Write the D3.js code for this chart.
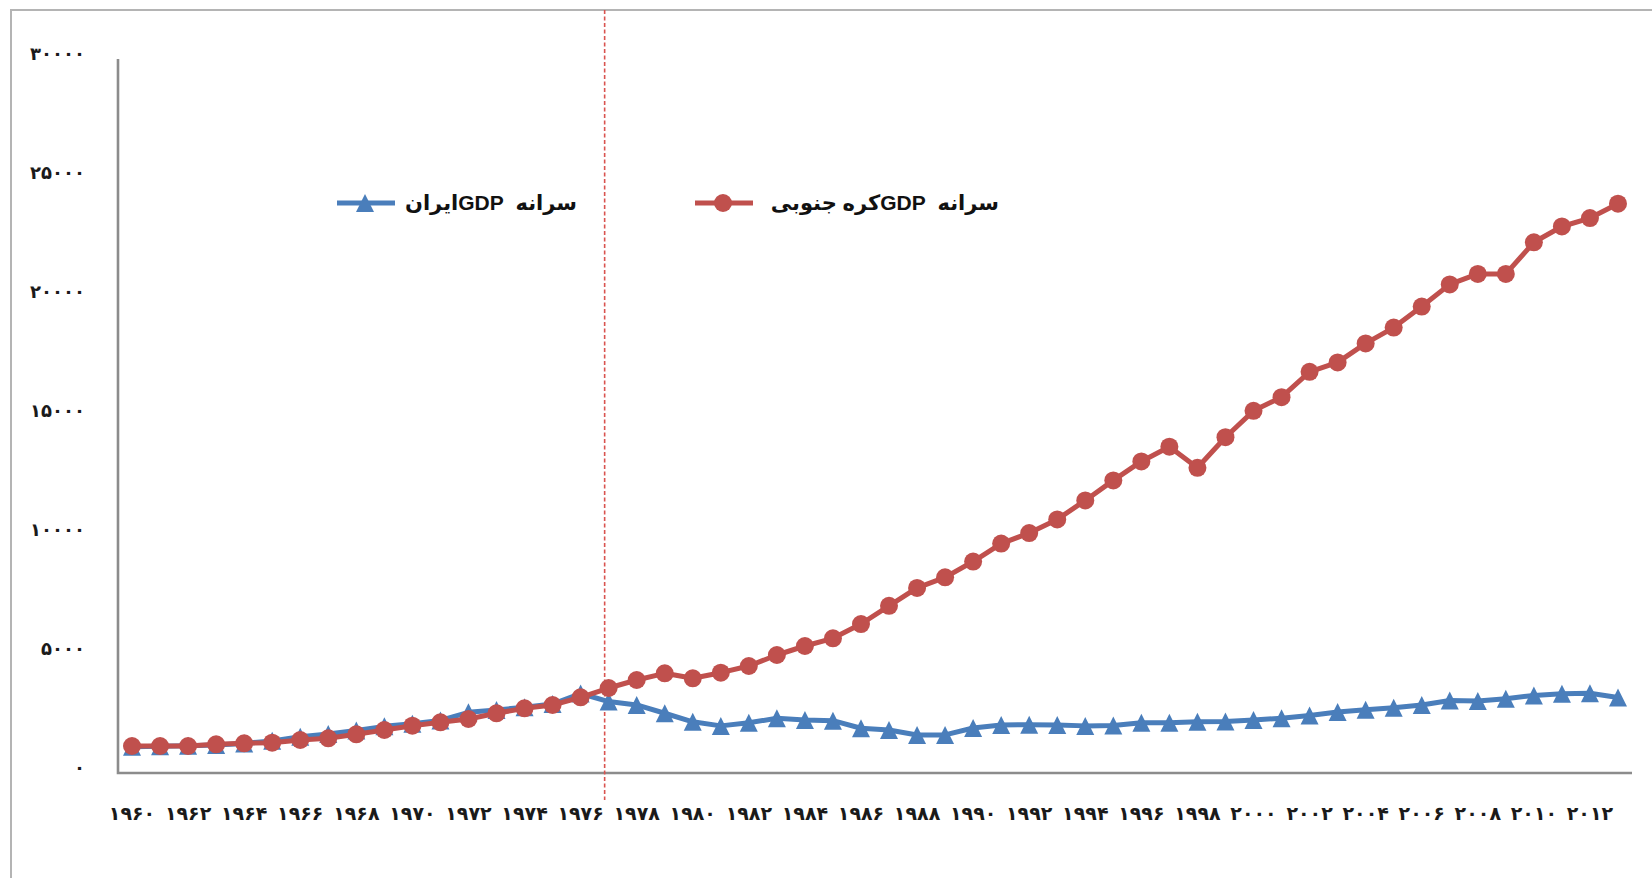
<!DOCTYPE html>
<html lang="fa">
<head>
<meta charset="utf-8">
<title>GDP per capita: Iran vs South Korea</title>
<script src="https://cdn.jsdelivr.net/npm/d3@7"></script>
<style>
  html, body { margin: 0; padding: 0; background: #fff; overflow: hidden; }
  svg { display: block; }
  .lbl { font-family: "DejaVu Sans", sans-serif; font-weight: bold; fill: #1a1a1a; }
  .leg { font-family: "Liberation Sans", "DejaVu Sans", sans-serif; font-weight: bold; fill: #111; white-space: pre; }
</style>
</head>
<body>
<svg id="chart" width="1652" height="878"></svg>
<script>
// ---------- data ----------
const years = d3.range(1960, 2014);
const yearTicks = d3.range(1960, 2013, 2);
const valueTicks = [0, 5000, 10000, 15000, 20000, 25000, 30000];

// سرانه GDP ایران
const iran = [
  1100, 1120, 1140, 1180, 1240, 1350, 1520, 1640, 1790, 1960,
  2070, 2210, 2550, 2650, 2760, 2900, 3340, 3000, 2860, 2510,
  2150, 1980, 2110, 2300, 2230, 2200, 1880, 1810, 1600, 1600,
  1890, 2020, 2030, 2020, 1980, 2000, 2110, 2110, 2150, 2160,
  2230, 2300, 2420, 2560, 2660, 2740, 2860, 3050, 3030, 3120,
  3260, 3330, 3350, 3170
];

// سرانه GDP کره جنوبی
const korea = [
  1134, 1134, 1134, 1204, 1246, 1274, 1387, 1456, 1625, 1807,
  1989, 2129, 2269, 2508, 2718, 2857, 3180, 3571, 3908, 4188,
  3978, 4215, 4496, 4958, 5336, 5658, 6260, 7026, 7778, 8221,
  8885, 9638, 10081, 10656, 11453, 12294, 13091, 13711, 12825, 14109,
  15216, 15792, 16854, 17253, 18050, 18714, 19599, 20529, 20971, 20971,
  22299, 22963, 23317, 23920
];

const markYear = 1977; // dashed marker line

const series = [
  { name: "سرانه\u00A0\u00A0GDPایران", values: iran, color: "#4a7ebb", shape: "triangle", legendX: 337, textX: 577 },
  { name: "سرانه\u00A0\u00A0GDPکره جنوبی", values: korea, color: "#c0504d", shape: "circle", legendX: 695, textX: 999 }
];

// ---------- layout ----------
const plot = { left: 118, right: 1632, top: 59, bottom: 773 };
const fa = (s) => String(s).replace(/\d/g, (d) => "۰۱۲۳۴۵۶۷۸۹"[d]);

const svg = d3.select("#chart");

// outer frame (only left/top edges fall inside the picture)
svg.append("rect")
  .attr("x", 11).attr("y", 10)
  .attr("width", 1700).attr("height", 1000)
  .attr("fill", "none")
  .attr("stroke", "#b4b4b4")
  .attr("stroke-width", 2);

const x = d3.scaleBand().domain(years).range([plot.left, plot.right]).padding(0);
const y = d3.scaleLinear().domain([0, 30000]).range([plot.bottom, plot.top]);
const cx = (yr) => x(yr) + x.bandwidth() / 2;

// y labels
const yAxis = svg.append("g")
  .attr("transform", `translate(${plot.left},0)`)
  .call(d3.axisLeft(y).tickValues(valueTicks).tickSize(0).tickPadding(33).tickFormat(fa));
yAxis.select(".domain").remove();
yAxis.selectAll("text")
  .attr("class", "lbl")
  .attr("font-size", 18)
  .attr("dy", "0.05em");

// x labels
const xAxis = svg.append("g")
  .attr("transform", `translate(0,${plot.bottom})`)
  .call(d3.axisBottom(x).tickValues(yearTicks).tickSize(0).tickPadding(34).tickFormat(fa));
xAxis.select(".domain").remove();
xAxis.selectAll("text")
  .attr("class", "lbl")
  .attr("font-size", 19);

// axis lines
svg.append("path")
  .attr("d", `M${plot.left},${plot.top}V${plot.bottom}H${plot.right}`)
  .attr("fill", "none")
  .attr("stroke", "#8c8c8c")
  .attr("stroke-width", 2.6);

// dashed marker
svg.append("line")
  .attr("x1", cx(markYear) - 4).attr("x2", cx(markYear) - 4)
  .attr("y1", 10).attr("y2", 800)
  .attr("stroke", "#d9534f")
  .attr("stroke-width", 1.6)
  .attr("stroke-dasharray", "4 2.5");

const tri = "M0,-9L9,9L-9,9Z";
const line = d3.line().x((d, i) => cx(years[i])).y((d) => y(d));

function drawMarker(g, shape, color) {
  if (shape === "circle") {
    g.append("circle").attr("r", 9).attr("fill", color);
  } else {
    g.append("path").attr("d", tri).attr("fill", color);
  }
}

series.forEach((s) => {
  const g = svg.append("g");
  g.append("path")
    .datum(s.values)
    .attr("d", line)
    .attr("fill", "none")
    .attr("stroke", s.color)
    .attr("stroke-width", 5)
    .attr("stroke-linejoin", "round");

  g.selectAll("g.pt")
    .data(s.values)
    .join("g")
    .attr("class", "pt")
    .attr("transform", (d, i) => `translate(${cx(years[i])},${y(d)})`)
    .each(function () { drawMarker(d3.select(this), s.shape, s.color); });

  // legend entry
  const lg = svg.append("g").attr("transform", `translate(0,203)`);
  lg.append("line")
    .attr("x1", s.legendX).attr("x2", s.legendX + 58)
    .attr("stroke", s.color).attr("stroke-width", 5);
  const mk = lg.append("g").attr("transform", `translate(${s.legendX + 28},0)`);
  drawMarker(mk, s.shape, s.color);
  lg.append("text")
    .attr("class", "leg")
    .attr("x", s.textX)
    .attr("y", 0)
    .attr("dy", "0.35em")
    .attr("direction", "rtl")
    .attr("text-anchor", "start")
    .attr("font-size", 21)
    .text(s.name);
});
</script>
</body>
</html>
